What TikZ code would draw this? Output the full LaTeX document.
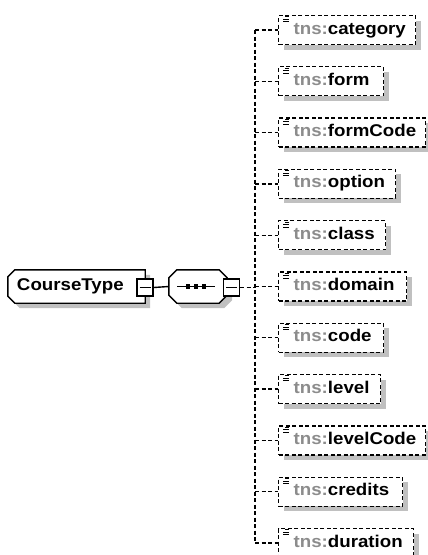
\documentclass[tikz,border=0pt]{standalone}
\usepackage{fontspec}
\setmainfont{Liberation Sans}[FakeStretch=1.1]
\usetikzlibrary{shadows,calc,backgrounds}
\definecolor{tnsgray}{RGB}{140,140,140}
\definecolor{shade}{RGB}{192,192,192}
\newcommand{\tns}[1]{\textcolor{tnsgray}{tns:}#1}

\begin{document}
\begin{tikzpicture}[x=1pt,y=-1pt,
  lbl/.style={font=\bfseries\fontsize{17}{20}\selectfont},
  shad/.style={drop shadow={shadow xshift=5pt,shadow yshift=-5pt,fill=shade,opacity=1}},
  dsh/.style={line width=1.3pt,dash pattern=on 4pt off 2.5pt},
  solid line/.style={line width=1.4pt},
  elem/.style={lbl,draw,dsh,fill=white,shad,rectangle,anchor=west,minimum height=29pt,
    inner xsep=0pt,inner ysep=0pt,text height=12pt,text depth=4pt,align=left},
  pm/.style={draw,solid line,fill=white,minimum width=16pt,minimum height=17pt,inner sep=0pt}]
\useasboundingbox (0,0) rectangle (428,555);
% complex type and sequence
\node[lbl,minimum width=137pt,text width=137pt,minimum height=33pt,inner sep=0pt,align=left] (ct) at (76.5,286.5) {\hspace*{9pt}CourseType};
\node[minimum width=58pt,minimum height=33pt,inner sep=0pt] (seq) at (198,286.5) {};
\begin{scope}[on background layer]
\draw[solid line,fill=white,shad] ($(ct.north west)+(7,0)$) -- (ct.north east) -- (ct.south east)
  -- ($(ct.south west)+(7,0)$) -- ($(ct.south west)+(0,-7)$) -- ($(ct.north west)+(0,7)$) -- cycle;
\draw[solid line,fill=white,shad] ($(seq.north west)+(8,0)$) -- ($(seq.north east)+(-8,0)$)
  -- ($(seq.north east)+(0,8)$) -- ($(seq.south east)+(0,-8)$) -- ($(seq.south east)+(-8,0)$)
  -- ($(seq.south west)+(8,0)$) -- ($(seq.south west)+(0,-8)$) -- ($(seq.north west)+(0,8)$) -- cycle;
\end{scope}
\node[pm] (ctm) at (145,287.5) {};
\draw[solid line] ($(ctm.center)+(-5.5,0)$) -- +(11,0);
\draw[solid line] ($(seq.center)+(-21,0)$) -- +(38,0);
\foreach \d in {-10,-2,6} {\fill ($(seq.center)+(\d,0)$) +(-2.2,-2.2) rectangle +(2.2,2.2);}
\node[pm] (seqm) at (231.5,287.5) {};
\draw[solid line] ($(seqm.center)+(-5.5,0)$) -- +(11,0);
\draw[solid line] (ctm.east) -- (seq.west);
% children
\coordinate (spine) at (255,287.5);
\draw[dsh] (seqm.east) -- (spine);
\foreach \nm/\w [count=\i from 0] in {category/137,form/105,formCode/147,option/117,class/107,domain/128,code/105,level/102,levelCode/147,credits/124,duration/135} {
  \node[elem,text width=\w pt,minimum width=\w pt] (c\i) at (278,{30+51.3*\i}) {\hspace*{15pt}\tns{\nm}};
  \draw[line width=1pt] ($(c\i.north west)+(7,2)$) -- +(4,0);
  \draw[line width=1pt] ($(c\i.north west)+(5,4.5)$) -- +(6,0);
  \draw[line width=1pt] ($(c\i.north west)+(5,7)$) -- +(6,0);
  \draw[dsh] (spine |- c\i.west) -- (c\i.west);
}
\draw[dsh] (spine |- c0.west) -- (spine |- c10.west);
\end{tikzpicture}
\end{document}
